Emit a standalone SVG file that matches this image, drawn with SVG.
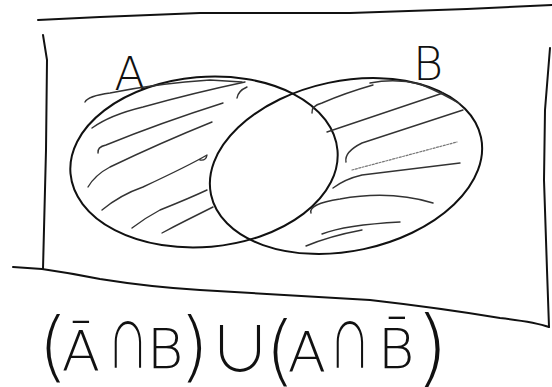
<svg xmlns="http://www.w3.org/2000/svg" width="552" height="387" viewBox="0 0 552 387">
<style>
.frame{fill:none;stroke:#111;stroke-width:2;stroke-linecap:round;stroke-linejoin:round}
.set{fill:none;stroke:#111;stroke-width:2}
.hatch{fill:none;stroke:#333;stroke-width:1.4;stroke-linecap:round;stroke-linejoin:round}
.faint{fill:none;stroke:#777;stroke-width:1.2;stroke-linecap:round;stroke-dasharray:2 1.5}
.lbl{font-family:"DejaVu Sans","Liberation Sans",sans-serif;font-weight:200;fill:#111;text-anchor:middle}
.sym{font-family:"Noto Sans CJK SC","DejaVu Sans",sans-serif;font-weight:300;fill:#111;text-anchor:middle}
</style>
<rect width="552" height="387" fill="#fff"/>
<g id="universe">
<path class="frame" d="M38,20 L100,17 L200,13 L350,13 L467,9 L552,5"/>
<path class="frame" d="M43,35 L47,60 L46,150 L43,269"/>
<path class="frame" d="M550,48 L545,110 L544,180 L547,270 L549,327"/>
<path class="frame" d="M13,267 L42,269 Q70,273 100,279 Q150,287 200,290 L370,300 Q440,308 500,318 Q535,322 549,327"/>
</g>
<g id="setA">
<ellipse class="set" cx="204" cy="162" rx="134" ry="85" transform="rotate(-5 204 162)"/>
<text class="lbl" x="130" y="90" font-size="46">A</text>
</g>
<g id="setB">
<ellipse class="set" cx="346" cy="166" rx="138" ry="85" transform="rotate(-12 346 166)"/>
<text class="lbl" x="428" y="80" font-size="46">B</text>
</g>
<g id="hatching">
<path class="hatch" d="M85,102 Q88,96 110,93 Q160,83 210,80 L242,82"/>
<path class="hatch" d="M92,128 Q110,115 143,107 Q193,93 245,82"/>
<path class="hatch" d="M98,153 Q97,147 106,145 Q160,123 223,103"/>
<path class="hatch" d="M88,187 Q95,175 110,167 Q160,143 212,122"/>
<path class="hatch" d="M102,210 Q120,195 143,187 Q190,165 207,155 Q206,161 200,160"/>
<path class="hatch" d="M132,228 Q145,218 160,210 Q190,198 207,190"/>
<path class="hatch" d="M162,233 Q175,226 187,220 L213,207"/>
<path class="hatch" d="M237,98 Q238,91 247,87"/>
<path class="hatch" d="M370,83 Q395,78 420,84 Q444,94 460,104"/>
<path class="hatch" d="M312,113 Q311,106 322,103 Q345,93 373,85"/>
<path class="hatch" d="M327,132 L443,93"/>
<path class="hatch" d="M346,162 Q344,152 362,143 L463,110"/>
<path class="faint" d="M352,170 L457,142"/>
<path class="hatch" d="M333,188 Q345,179 362,175 L460,163"/>
<path class="hatch" d="M311,213 Q308,204 340,199 Q390,190 433,203"/>
<path class="hatch" d="M322,234 Q345,225 400,222"/>
<path class="hatch" d="M306,246 Q330,236 362,230"/>
</g>
<g id="formula">
<text class="lbl" x="53" y="372" font-size="76">(</text>
<text class="lbl" x="81" y="370" font-size="56">Ā</text>
<text class="sym" font-size="48" transform="translate(128 368) scale(0.85 1.3)">∩</text>
<text class="lbl" x="165" y="368" font-size="56">B</text>
<text class="lbl" x="194" y="372" font-size="76">)</text>
<text class="sym" x="240" y="372" font-size="62">∪</text>
<text class="lbl" x="280" y="376" font-size="76">(</text>
<text class="lbl" x="307" y="371" font-size="56">A</text>
<text class="sym" font-size="48" transform="translate(350 368) scale(0.85 1.3)">∩</text>
<text class="lbl" x="396" y="368" font-size="56">B̄</text>
<text class="lbl" x="432" y="376" font-size="84">)</text>
</g>
</svg>
